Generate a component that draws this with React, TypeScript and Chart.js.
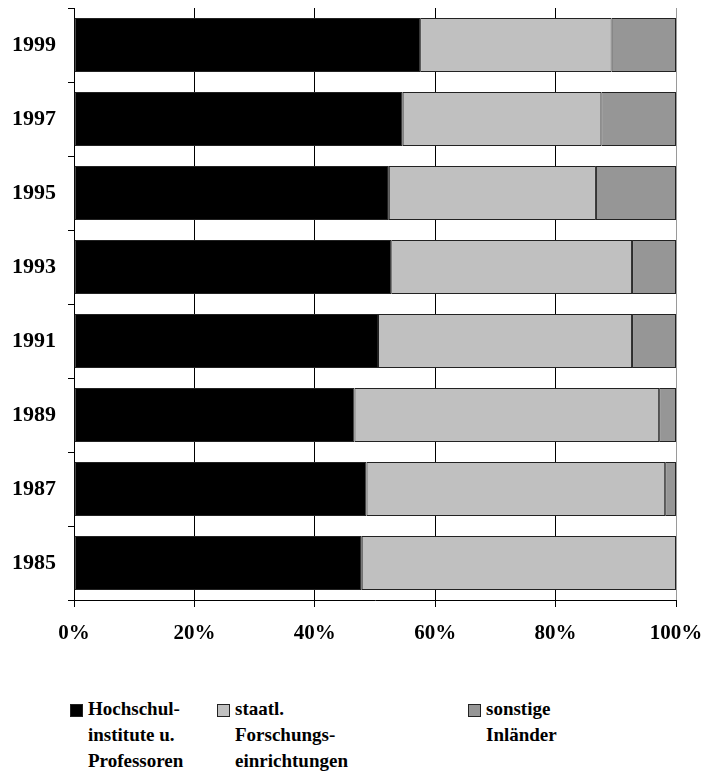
import React, { useEffect, useRef } from 'react';
import Chart from 'chart.js/auto';

const years = ['1999', '1997', '1995', '1993', '1991', '1989', '1987', '1985'];
const seriesNames = ['Hochschul-\ninstitute u.\nProfessoren', 'staatl.\nForschungs-\neinrichtungen', 'sonstige\nInländer'];
const seriesColors = ['#000000', '#c0c0c0', '#969696'];
const hochschul = [57.5, 54.6, 52.3, 52.7, 50.5, 46.6, 48.6, 47.8];
const staatl = [31.8, 33.0, 34.4, 40.0, 42.2, 50.6, 49.6, 52.2];
const sonstige = [10.7, 12.4, 13.3, 7.3, 7.3, 2.8, 1.8, 0];
const seriesValues = [hochschul, staatl, sonstige];
const xTicks = [0, 20, 40, 60, 80, 100];

const FONT = 'Liberation Serif';
const legendLeft = [70, 217, 468];

export default function App() {
  const canvasRef = useRef<HTMLCanvasElement | null>(null);

  useEffect(() => {
    if (!canvasRef.current) return;
    const chart = new Chart(canvasRef.current, {
      type: 'bar',
      data: {
        labels: years,
        datasets: seriesValues.map((vals, i) => ({
          label: seriesNames[i].replace(/\n/g, ' '),
          data: vals,
          backgroundColor: seriesColors[i],
          borderColor: '#222222',
          borderWidth: 1,
          borderSkipped: false,
          barPercentage: 0.73,
          categoryPercentage: 1,
        })),
      },
      options: {
        indexAxis: 'y',
        responsive: false,
        maintainAspectRatio: false,
        animation: false,
        layout: { padding: { top: 8, right: 31, left: 0, bottom: 0 } },
        plugins: {
          legend: { display: false },
          tooltip: { enabled: false },
        },
        scales: {
          x: {
            stacked: true,
            min: 0,
            max: 100,
            afterBuildTicks: scale => {
              scale.ticks = xTicks.map(v => ({ value: v }));
            },
            afterFit: scale => {
              scale.height = 60;
              scale.paddingLeft = 0;
              scale.paddingRight = 0;
            },
            border: { color: '#000000', width: 1 },
            grid: {
              color: ctx => (ctx.tick && ctx.tick.value === 100 ? '#9a9a9a' : '#000000'),
              lineWidth: 1,
              tickLength: 7,
              tickColor: '#000000',
            },
            ticks: {
              color: '#000000',
              padding: 14,
              font: { family: FONT, size: 21, weight: 'bold' },
              callback: v => `${v}%`,
            },
          },
          y: {
            stacked: true,
            afterFit: scale => {
              scale.width = 74;
              scale.paddingTop = 0;
              scale.paddingBottom = 0;
            },
            border: { color: '#000000', width: 1 },
            grid: {
              offset: true,
              drawOnChartArea: false,
              tickLength: 6,
              tickColor: '#000000',
            },
            ticks: {
              color: '#000000',
              padding: 12,
              font: { family: FONT, size: 22, weight: 'bold' },
            },
          },
        },
      },
    });
    return () => chart.destroy();
  }, []);

  return (
    <div style={{ position: 'absolute', left: 0, top: 0, width: 707, height: 777, background: '#ffffff' }}>
      <canvas ref={canvasRef} width={707} height={660} style={{ display: 'block', width: 707, height: 660 }} />
      {seriesNames.map((name, i) => (
        <div
          key={i}
          style={{
            position: 'absolute',
            left: legendLeft[i],
            top: 696,
            display: 'flex',
            alignItems: 'flex-start',
            fontFamily: FONT,
            fontWeight: 'bold',
            fontSize: 19,
            lineHeight: '26px',
            color: '#000000',
          }}
        >
          <span
            style={{
              display: 'inline-block',
              width: 11,
              height: 11,
              marginTop: 8,
              marginRight: 5,
              background: seriesColors[i],
              border: '1px solid #222222',
            }}
          />
          <span style={{ whiteSpace: 'pre-line' }}>{name}</span>
        </div>
      ))}
    </div>
  );
}
